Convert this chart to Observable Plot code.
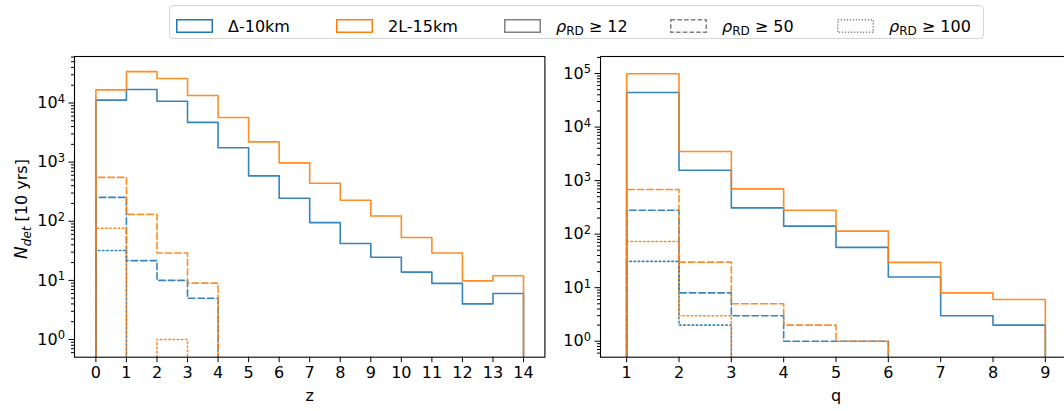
<!DOCTYPE html>
<html><head><meta charset="utf-8">
<script src="https://cdn.jsdelivr.net/npm/d3@7"></script>
<script src="https://cdn.jsdelivr.net/npm/@observablehq/plot@0.6"></script>
<style>
body{margin:0;overflow:hidden;background:#fff;font-family:"DejaVu Sans",sans-serif;}
#wrap{position:relative;width:1064px;height:411px;overflow:hidden;}
#legend{position:absolute;left:169px;top:5px;width:815px;height:34px;border:1px solid #d5d5d5;border-radius:4px;box-sizing:border-box;background:#fff;z-index:2}
.item{position:absolute;top:12px;height:16px;display:flex;align-items:center;font-size:16px;white-space:nowrap;color:#000}
.item svg{margin-right:15px;flex:none}
.plot{position:absolute;top:0}
sub{font-size:12px;vertical-align:-3px;line-height:0}
</style></head>
<body><div id="wrap"><div id="legend"></div></div>
<script>
// ---- data ----
const zEdges = [0,1,2,3,4,5,6,7,8,9,10,11,12,13,14];
const qEdges = [1,2,3,4,5,6,7,8,9];
const zTicks = [0,1,2,3,4,5,6,7,8,9,10,11,12,13,14];
const qTicks = [1,2,3,4,5,6,7,8,9];

// left panel (redshift z), counts per bin
const z_D10_12  = [11200, 16900, 10700, 4700, 1750, 585, 245, 95, 42, 24.6, 13.8, 8.9, 4.0, 6.0];
const z_2L15_12 = [16700, 34000, 26000, 13400, 5700, 2200, 970, 440, 227, 123, 53, 29, 9.8, 12];
const z_D10_50  = [254, 21.6, 10, 5.0];
const z_2L15_50 = [553, 131, 29, 9];
const z_D10_100 = [32];
const z_2L15_100 = [76, 0, 1];

// right panel (mass ratio q)
const q_D10_12  = [44300, 1560, 309, 141, 56.5, 15.8, 3.0, 2.0];
const q_2L15_12 = [99000, 3500, 700, 280, 114, 29.7, 8, 6];
const q_D10_50  = [280, 8, 3, 1, 1];
const q_2L15_50 = [680, 30, 5, 2, 1];
const q_D10_100 = [31, 2];
const q_2L15_100 = [73, 3];

const detectors = ["Δ-10km", "2L-15km"];
const thresholds = [12, 50, 100];
const colors = ["#1f77b4", "#ff7f0e"];
const dashes = [null, "6.5,3", "1.6,2.6"];

// ---- helpers ----
const FLOOR = 1e-3;
function steps(vals, edges) {
  const pts = [{x: edges[0], y: FLOOR}];
  vals.forEach((v, i) => {
    const y = v > 0 ? v : FLOOR;
    pts.push({x: edges[i], y}, {x: edges[i + 1], y});
  });
  pts.push({x: edges[vals.length], y: FLOOR});
  return pts;
}
const expOf = v => Math.round(Math.log10(v));

function panel({width, marginLeft, marginRight, xDomain, yDomain, xTicks, label, series}) {
  const [lo, hi] = yDomain;
  const majors = [], minors = [];
  for (let e = Math.floor(Math.log10(lo)); e <= Math.ceil(Math.log10(hi)); e++) {
    for (let m = 1; m < 10; m++) {
      const v = m * Math.pow(10, e);
      if (v < lo || v > hi) continue;
      (m === 1 ? majors : minors).push(v);
    }
  }
  const svg = Plot.plot({
    width, height: 411, marginTop: 56, marginBottom: 54.3, marginLeft, marginRight,
    style: {fontFamily: "DejaVu Sans", fontSize: "16px", color: "black", background: "transparent", overflow: "visible"},
    x: {domain: xDomain},
    y: {type: "log", domain: yDomain},
    marks: [
      ...series.map(s => Plot.line(s.pts, {x: "x", y: "y", stroke: s.color, strokeWidth: 1.6, strokeOpacity: 0.9, strokeDasharray: s.dash, clip: true})),
      Plot.frame({stroke: "black", strokeWidth: 1.1}),
      Plot.axisX({ticks: xTicks, tickSize: 5.5, tickPadding: 4, tickFormat: d => String(d), label, labelAnchor: "center", labelArrow: "none", labelOffset: 44, fontSize: 16}),
      Plot.axisY({ticks: majors, tickSize: 5.5, tickPadding: 4, tickFormat: v => "10^" + expOf(v), label: null, fontSize: 16, ariaLabel: "ymajor"}),
      Plot.axisY({ticks: minors, tickSize: 3, tickFormat: () => "", label: null})
    ]
  });
  // render "10^k" as 10 with a real superscript
  d3.select(svg).selectAll("text").each(function() {
    const t = d3.select(this);
    const s = t.text();
    const m = /^10\^(-?\d+)$/.exec(s);
    if (!m) return;
    t.text("");
    t.append("tspan").text("10");
    t.append("tspan").attr("font-size", 11.5).attr("dy", "-0.45em").text(m[1]);
  });
  return svg;
}

function buildSeries(sets, edges) {
  const out = [];
  sets.forEach((pair, ti) => pair.forEach((vals, di) => {
    out.push({pts: steps(vals, edges), color: colors[di], dash: dashes[ti]});
  }));
  return out;
}

const left = panel({
  width: 550, marginLeft: 74, marginRight: 5.6,
  xDomain: [-0.7, 14.7], yDomain: [0.502, 61200], xTicks: zTicks, label: "z",
  series: buildSeries([[z_D10_12, z_2L15_12], [z_D10_50, z_2L15_50], [z_D10_100, z_2L15_100]], zEdges)
});
const right = panel({
  width: 521, marginLeft: 50, marginRight: 0,
  xDomain: [0.5, 9.5], yDomain: [0.503, 208000], xTicks: qTicks, label: "q",
  series: buildSeries([[q_D10_12, q_2L15_12], [q_D10_50, q_2L15_50], [q_D10_100, q_2L15_100]], qEdges)
});
left.classList.add("plot"); right.classList.add("plot");
left.style.left = "0px"; right.style.left = "550px";
const wrap = document.getElementById("wrap");
wrap.appendChild(left); wrap.appendChild(right);

// y-axis label
const yl = d3.select(left).append("text")
  .attr("transform", "translate(27,209) rotate(-90)")
  .attr("text-anchor", "middle")
  .attr("font-size", 16).attr("font-family", "DejaVu Sans").attr("fill", "black");
yl.append("tspan").attr("font-style", "italic").attr("font-size", 17).text("N");
yl.append("tspan").attr("font-style", "italic").attr("font-size", 12).attr("dy", 4).text("det");
yl.append("tspan").attr("dy", -4).text(" [10 yrs]");

// legend
const legend = document.getElementById("legend");
const legendItems = [
  {html: detectors[0], stroke: colors[0], dash: null},
  {html: detectors[1], stroke: colors[1], dash: null},
  ...thresholds.map((t, i) => ({html: `<i>ρ</i><sub>RD</sub> ≥ ${t}`, stroke: "#808080", dash: [null, "4.5,2.2", "1.2,1.8"][i]}))
];
const itemLeft = [6, 166, 334, 500, 667];
legendItems.forEach((it, i) => {
  const d = document.createElement("div");
  d.className = "item";
  d.style.left = itemLeft[i] + "px";
  d.innerHTML = `<svg width="37" height="14"><rect x="0.75" y="0.75" width="35.5" height="12.5" fill="none" stroke="${it.stroke}" stroke-width="1.5" ${it.dash ? `stroke-dasharray="${it.dash}"` : ""}/></svg><span>${it.html}</span>`;
  legend.appendChild(d);
});
</script></body></html>
